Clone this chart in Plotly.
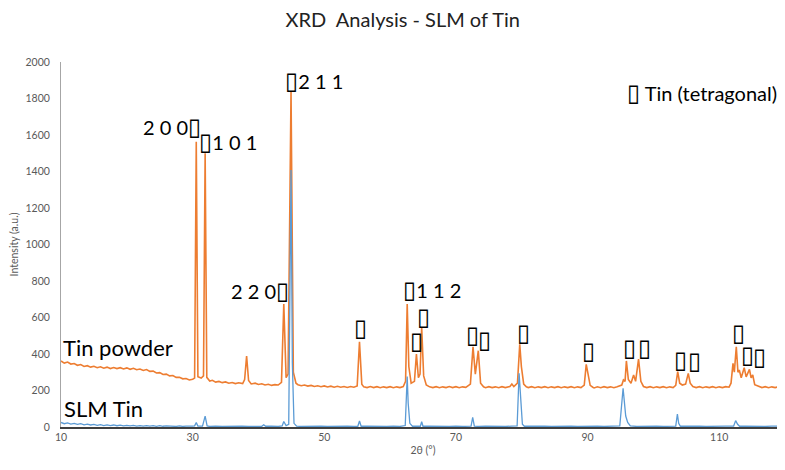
import plotly.graph_objects as go

# ---------------- data ----------------
powder_2theta = [
    10.0, 10.5, 11.0, 11.5, 12.0, 12.5, 13.0, 13.5, 14.0, 14.5, 15.0, 15.5, 16.0, 16.5,
    17.0, 17.5, 18.0, 18.5, 19.0, 19.5, 20.0, 20.5, 21.0, 21.5, 22.0, 22.5, 23.0, 23.5,
    24.0, 24.5, 25.0, 25.5, 26.0, 26.5, 27.0, 27.5, 28.0, 28.5, 29.0, 29.5, 30.0, 30.3,
    30.55, 30.8, 31.3, 31.65, 31.9, 32.15, 32.6, 33.0, 33.5, 34.0, 34.5, 35.0, 35.5, 36.0,
    36.5, 37.0, 37.6, 37.9, 38.2, 38.5, 38.9, 39.5, 40.0, 40.5, 41.0, 41.5, 42.0, 42.5,
    43.0, 43.5, 43.85, 44.2, 44.5, 44.95, 45.3, 45.7, 46.0, 46.5, 47.0, 47.5, 48.0, 48.5,
    49.0, 49.5, 50.0, 50.5, 51.0, 51.5, 52.0, 52.5, 53.0, 53.5, 54.0, 54.5, 55.0, 55.35,
    55.7, 56.0, 56.5, 57.0, 57.5, 58.0, 58.5, 59.0, 59.5, 60.0, 60.5, 61.0, 61.5, 62.0,
    62.35, 62.6, 62.85, 63.2, 63.7, 64.0, 64.3, 64.55, 64.8, 65.1, 65.5, 66.0, 66.5, 67.0,
    67.5, 68.0, 68.5, 69.0, 69.5, 70.0, 70.5, 71.0, 71.5, 72.2, 72.6, 72.95, 73.4, 73.75,
    74.2, 74.5, 75.0, 75.5, 76.0, 76.5, 77.0, 77.5, 78.2, 78.5, 78.8, 79.35, 79.7, 79.95,
    80.3, 80.7, 81.0, 81.5, 82.0, 82.5, 83.0, 83.5, 84.0, 84.5, 85.0, 85.5, 86.0, 86.5,
    87.0, 87.5, 88.0, 88.5, 89.0, 89.5, 89.8, 90.1, 90.4, 90.8, 91.0, 91.5, 92.0, 92.5,
    93.0, 93.5, 94.0, 94.5, 95.2, 95.45, 95.7, 95.9, 96.2, 96.6, 97.0, 97.3, 97.75, 98.1,
    98.5, 99.0, 99.5, 100.0, 100.5, 101.0, 101.5, 102.0, 102.5, 103.0, 103.4, 103.7, 104.0,
    104.4, 104.9, 105.3, 105.6, 106.0, 106.5, 107.0, 107.5, 108.0, 108.5, 109.0, 109.5,
    110.0, 110.5, 111.0, 111.5, 111.8, 112.1, 112.3, 112.6, 112.85, 113.05, 113.35, 113.8,
    114.1, 114.6, 114.85, 115.1, 115.4, 116.0, 116.5, 117.0, 117.5, 118.0, 118.5, 119.0,
    119.5, 120.0,
]
powder_counts = [
    362, 350, 356, 345, 348, 338, 342, 332, 336, 328, 333, 325, 330, 322,
    328, 320, 326, 320, 325, 318, 324, 316, 322, 314, 318, 310, 315, 305,
    306, 296, 298, 288, 290, 280, 282, 272, 272, 264, 266, 258, 262, 268,
    1563, 275, 268, 280, 1500, 272, 252, 256, 246, 250, 243, 247, 240, 244,
    238, 242, 238, 260, 389, 255, 236, 240, 233, 237, 230, 234, 228, 232,
    230, 245, 674, 270, 290, 1837, 300, 240, 232, 226, 230, 224, 228, 222,
    226, 221, 225, 219, 224, 218, 223, 218, 222, 217, 222, 218, 225, 467,
    235, 220, 216, 222, 216, 221, 215, 220, 216, 221, 215, 220, 216, 222,
    250, 674, 330, 240, 250, 400, 270, 290, 546, 280, 230, 220, 216, 221,
    215, 220, 216, 222, 216, 221, 215, 220, 217, 235, 440, 290, 418, 240,
    220, 215, 221, 216, 220, 215, 221, 216, 222, 235, 222, 240, 453, 330,
    235, 220, 216, 221, 215, 220, 216, 221, 215, 220, 216, 221, 215, 220,
    216, 221, 215, 220, 216, 230, 343, 280, 228, 218, 214, 220, 215, 221,
    216, 220, 215, 221, 230, 258, 250, 362, 260, 240, 285, 250, 372, 250,
    222, 216, 221, 215, 220, 216, 221, 215, 220, 216, 228, 303, 240,
    230, 235, 294, 240, 222, 216, 221, 215, 220, 216, 221, 215,
    220, 216, 221, 218, 240, 349, 300, 440, 300, 312, 270, 325,
    275, 316, 270, 285, 232, 222, 216, 221, 215, 220, 216, 221,
    216, 220,
]

slm_2theta = [
    10.0, 10.5, 11.0, 11.5, 12.0, 12.5, 13.0, 13.5, 14.0, 14.5, 15.0, 15.5, 16.0, 16.5,
    17.0, 17.5, 18.0, 18.5, 19.0, 19.5, 20.0, 20.5, 21.0, 21.5, 22.0, 22.5, 23.0, 23.5,
    24.0, 24.5, 25.0, 25.5, 26.0, 26.5, 27.0, 27.5, 28.0, 28.5, 29.0, 29.5, 30.0, 30.3,
    30.55, 30.8, 31.5, 31.9, 32.2, 32.6, 33.5, 34.5, 35.5, 36.5, 37.5, 38.5, 39.5, 40.5,
    40.8, 41.1, 42.0, 43.0, 43.6, 43.85, 44.2, 44.6, 44.95, 45.15, 45.4, 45.8, 46.5, 47.5,
    48.5, 49.5, 50.5, 51.5, 52.5, 53.5, 54.5, 55.1, 55.35, 55.6, 56.5, 57.5, 58.5, 59.5,
    60.5, 61.5, 62.3, 62.6, 62.75, 63.0, 63.4, 64.0, 64.6, 64.8, 65.0, 66.0, 67.0, 68.0,
    69.0, 70.0, 71.0, 72.3, 72.55, 72.8, 73.5, 74.5, 75.5, 76.5, 77.5, 78.5, 79.3, 79.6,
    79.8, 80.1, 80.4, 81.5, 82.5, 83.5, 84.5, 85.5, 86.5, 87.5, 88.5, 89.5, 90.5, 91.5,
    92.5, 93.5, 94.5, 94.9, 95.4, 95.6, 95.8, 96.1, 96.5, 97.5, 98.5, 99.5, 100.5, 101.5,
    102.5, 103.4, 103.65, 103.85, 104.1, 105.0, 106.0, 107.0, 108.0, 109.0, 110.0, 111.0,
    112.2, 112.5, 112.8, 113.1, 114.0, 115.0, 116.0, 117.0, 118.0, 119.0, 120.0,
]
slm_counts = [
    25, 18, 22, 16, 20, 14, 18, 12, 16, 11, 14, 9, 13, 8,
    12, 8, 11, 7, 10, 6, 9, 6, 9, 5, 8, 5, 8, 5,
    7, 4, 7, 4, 6, 4, 6, 3, 6, 3, 5, 3, 5, 6,
    24, 5, 5, 60, 6, 3, 5, 3, 5, 3, 5, 3, 5, 4,
    12, 4, 5, 3, 6, 30, 8, 15, 1408, 350, 20, 5, 3, 5,
    3, 5, 3, 5, 3, 5, 3, 4, 33, 4, 5, 3, 5, 3,
    5, 3, 8, 276, 130, 20, 4, 5, 4, 29, 4, 5, 3, 5,
    3, 5, 3, 5, 53, 5, 3, 5, 3, 5, 3, 5, 6, 294,
    166, 15, 4, 5, 3, 5, 3, 5, 3, 5, 3, 5, 3, 5,
    3, 5, 3, 6, 212, 120, 60, 25, 6, 3, 5, 3, 5, 3,
    5, 5, 71, 20, 4, 5, 3, 5, 3, 5, 3, 5,
    5, 35, 15, 4, 5, 3, 5, 3, 5, 3, 5,
]

x_ticks = [10, 30, 50, 70, 90, 110]

BOX_CHAR = "\u25AF"
BOX = '<span style="font-family:DejaVu Sans;font-size:24px;font-weight:bold">' + BOX_CHAR + "</span>"
# plane labels: (text, 2theta, counts)
plane_labels = [
    ("2 0 0" + BOX, 26.8, 1644),
    (BOX + "1 0 1", 35.4, 1562),
    (BOX + "2 1 1", 48.5, 1896),
    ("2 2 0" + BOX, 40.2, 745),
    (BOX + "1 1 2", 66.3, 751),
]
# single phase markers (2theta, counts)
marker_2theta = [55.5, 64.0, 65.1, 72.5, 74.3, 80.2, 90.1, 96.3, 98.6, 104.1, 106.2, 112.9, 114.3, 116.1]
marker_counts = [541, 471, 604, 504, 477, 513, 416, 431, 431, 367, 362, 514, 392, 385]

series_labels = [("Tin powder", 18.7, 438), ("SLM Tin", 16.5, 99)]

# ---------------- figure ----------------
ORANGE = "#ED7D31"
BLUE = "#5B9BD5"
FONT = "Lato, DejaVu Sans, sans-serif"

fig = go.Figure()
fig.add_trace(go.Scatter(x=powder_2theta, y=powder_counts, mode="lines",
                         line=dict(color=ORANGE, width=1.6), name="Tin powder"))
fig.add_trace(go.Scatter(x=slm_2theta, y=slm_counts, mode="lines",
                         line=dict(color=BLUE, width=1.3), name="SLM Tin"))

for txt, xv, yv in plane_labels:
    fig.add_annotation(x=xv, y=yv, xref="x", yref="y", text=txt, showarrow=False,
                       font=dict(family=FONT, size=20, color="#000000"))
for xv, yv in zip(marker_2theta, marker_counts):
    fig.add_annotation(x=xv, y=yv, xref="x", yref="y", text=BOX, showarrow=False,
                       borderpad=0,
                       font=dict(family=FONT, size=20, color="#000000"))
for txt, xv, yv in series_labels:
    fig.add_annotation(x=xv, y=yv, xref="x", yref="y", text=txt, showarrow=False,
                       font=dict(family=FONT, size=22, color="#000000"))
fig.add_annotation(x=107.4, y=1830, xref="x", yref="y", text=BOX + " Tin (tetragonal)",
                   showarrow=False, font=dict(family=FONT, size=20, color="#000000"))

# the page body adds an 8 px offset, so the figure is 8 px smaller and margins shifted
fig.update_layout(
    width=777, height=462,
    margin=dict(l=53, r=0, t=54, b=43, autoexpand=False),
    paper_bgcolor="white", plot_bgcolor="white",
    showlegend=False,
    title=dict(text="XRD  Analysis - SLM of Tin", x=0.508, xanchor="center",
               y=0.975, yanchor="middle",
               font=dict(family=FONT, size=20, color="#222222")),
    xaxis=dict(range=[10, 120], tickvals=x_ticks, ticktext=[str(v) for v in x_ticks],
               showgrid=False, zeroline=False, showline=True, linecolor="#404040",
               linewidth=1.5, ticks="", automargin=False,
               tickfont=dict(family=FONT, size=10.5, color="#595959"),
               title=dict(text="2θ (°)", font=dict(family=FONT, size=10.5, color="#595959"),
                          standoff=4)),
    yaxis=dict(range=[0, 2000], dtick=200, showgrid=False, zeroline=False,
               showline=True, linecolor="#A6A6A6", linewidth=1, ticks="",
               ticklabelstandoff=8, automargin=False,
               tickfont=dict(family=FONT, size=10.5, color="#595959"),
               title=dict(text="Intensity (a.u.)",
                          font=dict(family=FONT, size=10.5, color="#595959"),
                          standoff=10)),
)

fig.write_html("out.html")
